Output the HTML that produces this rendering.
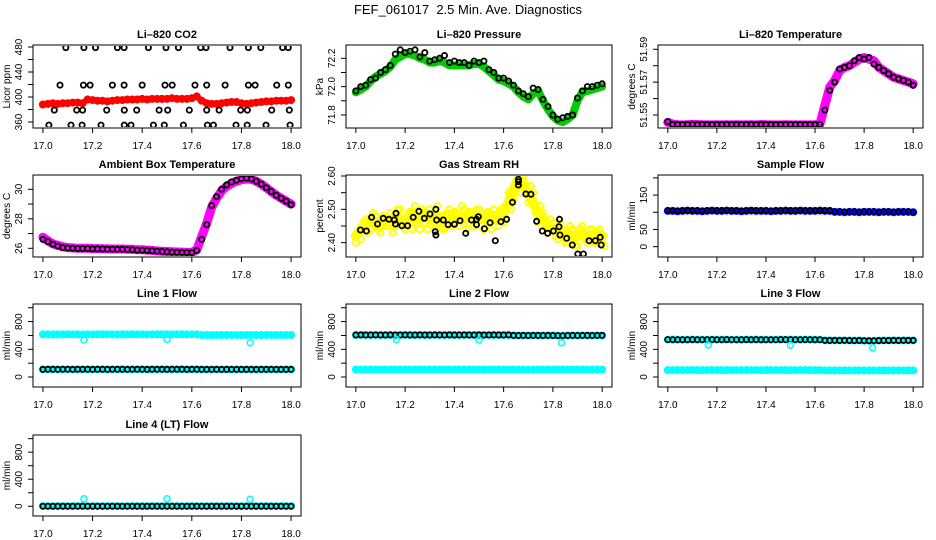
<!DOCTYPE html>
<html><head><meta charset="utf-8"><style>
html,body{margin:0;padding:0;background:#fff;}
svg{display:block;font-family:"Liberation Sans",Arial,sans-serif;}
</style></head><body>
<svg id="chart" width="936" height="540" viewBox="0 0 936 540" xmlns="http://www.w3.org/2000/svg">
<text x="468" y="14" font-size="13" text-anchor="middle">FEF_061017&#160; 2.5 Min. Ave. Diagnostics</text>
</svg>
<script>
// ---- data ----
const xTicks = [17.0, 17.2, 17.4, 17.6, 17.8, 18.0];
const xTickLabels = ["17.0", "17.2", "17.4", "17.6", "17.8", "18.0"];

const co2Red = [388,389,390,389,390,390,391,391,390,396,395,394,394,393,394,395,395,396,396,396,397,396,397,397,397,397,398,397,397,397,398,401,394,390,389,389,390,391,392,392,390,389,390,391,392,393,393,394,394,394,395];
const co2BlackT = [17.092,17.165,17.212,17.3,17.327,17.425,17.496,17.546,17.636,17.657,17.754,17.828,17.878,17.966,17.989,
17.069,17.163,17.19,17.28,17.327,17.4,17.492,17.521,17.613,17.66,17.734,17.828,17.855,17.942,17.989,
17.046,17.136,17.16,17.257,17.328,17.378,17.468,17.503,17.59,17.66,17.71,17.797,17.824,17.922,17.993,
17.024,17.113,17.158,17.234,17.328,17.355,17.445,17.489,17.566,17.663,17.687,17.778,17.823,17.899,17.996];
const co2BlackV = [479,479,479,479,479,479,479,479,479,479,479,479,479,479,479,
419,419,419,419,419,419,419,419,419,419,419,419,419,419,419,
379,379,379,379,379,379,379,379,379,379,379,379,379,379,379,
355,355,355,355,355,355,355,355,355,355,355,355,355,355,355];

const presGreen = [71.96,71.98,72.00,72.04,72.07,72.09,72.11,72.14,72.19,72.21,72.23,72.23,72.22,72.20,72.19,72.17,72.17,72.18,72.17,72.15,72.15,72.15,72.15,72.15,72.16,72.16,72.14,72.11,72.08,72.05,72.04,72.02,72.00,71.96,71.93,71.91,71.95,71.97,71.90,71.84,71.79,71.76,71.75,71.77,71.80,71.90,71.96,71.97,71.98,71.99,72.00];
const presBlack = [71.97,72.00,72.01,72.05,72.06,72.10,72.12,72.15,72.23,72.26,72.24,72.25,72.26,72.21,72.24,72.18,72.19,72.20,72.22,72.17,72.18,72.17,72.17,72.15,72.18,72.17,72.18,72.12,72.10,72.06,72.06,72.04,72.01,71.97,71.95,71.93,71.99,71.98,71.91,71.86,71.80,71.77,71.78,71.79,71.80,71.92,71.97,72.00,72.00,72.01,72.02];

const ltMag = [51.5455,51.5445,51.5441,51.5440,51.5441,51.5443,51.5442,51.5441,51.5440,51.5440,51.5441,51.5440,51.5441,51.5440,51.5441,51.5440,51.5440,51.5441,51.5440,51.5442,51.5441,51.5440,51.5440,51.5440,51.5441,51.5440,51.5440,51.5440,51.5440,51.5440,51.5441,51.5445,51.5560,51.5670,51.5710,51.5770,51.5790,51.5800,51.5820,51.5840,51.5850,51.5840,51.5830,51.5790,51.5770,51.5750,51.5730,51.5720,51.5710,51.5700,51.5690];
const ltBlack = [51.5460,51.5442,51.5443,51.5442,51.5443,51.5444,51.5442,51.5443,51.5442,51.5442,51.5442,51.5442,51.5443,51.5442,51.5443,51.5442,51.5443,51.5443,51.5442,51.5443,51.5443,51.5442,51.5442,51.5442,51.5442,51.5442,51.5442,51.5442,51.5442,51.5442,51.5442,51.5443,51.5530,51.5650,51.5700,51.5780,51.5790,51.5800,51.5830,51.5850,51.5840,51.5850,51.5810,51.5790,51.5770,51.5750,51.5730,51.5720,51.5710,51.5700,51.5680];

const ambMag = [26.75,26.5,26.3,26.2,26.1,26.05,26.03,26.0,26.0,26.0,25.98,25.98,25.97,25.96,25.95,25.95,25.95,25.94,25.93,25.9,25.9,25.88,25.86,25.82,25.8,25.78,25.76,25.75,25.74,25.72,25.72,25.9,26.8,27.7,28.8,29.4,29.9,30.2,30.4,30.55,30.65,30.7,30.68,30.55,30.35,30.1,29.85,29.6,29.4,29.2,29.0];
const ambBlack = [26.6,26.45,26.28,26.15,26.05,26.02,26.0,25.98,25.98,25.97,25.96,25.96,25.95,25.94,25.94,25.93,25.93,25.92,25.9,25.88,25.87,25.85,25.83,25.8,25.78,25.76,25.74,25.73,25.72,25.71,25.71,25.85,26.6,27.6,28.9,29.5,30.0,30.3,30.5,30.62,30.72,30.75,30.7,30.55,30.35,30.1,29.85,29.6,29.4,29.2,28.95];

const rhYellow = [2.42,2.44,2.45,2.47,2.46,2.45,2.47,2.46,2.48,2.47,2.46,2.49,2.48,2.47,2.49,2.47,2.48,2.46,2.48,2.47,2.49,2.48,2.47,2.49,2.48,2.48,2.47,2.49,2.47,2.48,2.49,2.52,2.56,2.59,2.58,2.55,2.52,2.49,2.47,2.45,2.44,2.44,2.42,2.43,2.41,2.42,2.43,2.42,2.42,2.43,2.42];
const rhYellow2 = [2.40,2.41,2.47,2.44,2.48,2.43,2.45,2.49,2.45,2.50,2.44,2.46,2.51,2.44,2.46,2.50,2.45,2.48,2.44,2.50,2.46,2.45,2.50,2.46,2.45,2.50,2.44,2.46,2.50,2.45,2.46,2.55,2.53,2.57,2.60,2.52,2.55,2.46,2.49,2.43,2.46,2.41,2.44,2.40,2.44,2.39,2.45,2.40,2.44,2.40,2.41];
const rhYellow3 = [2.43,2.46,2.43,2.49,2.44,2.48,2.45,2.43,2.50,2.45,2.48,2.44,2.46,2.50,2.44,2.45,2.51,2.44,2.49,2.45,2.47,2.51,2.44,2.47,2.50,2.45,2.49,2.44,2.48,2.50,2.47,2.50,2.58,2.55,2.56,2.57,2.49,2.51,2.45,2.47,2.42,2.46,2.40,2.45,2.39,2.44,2.41,2.44,2.40,2.44,2.39];
const rhBlackT = [17.019,17.043,17.064,17.088,17.111,17.134,17.156,17.161,17.163,17.187,17.21,17.233,17.256,17.278,17.301,17.322,17.325,17.325,17.328,17.355,17.375,17.4,17.423,17.446,17.469,17.49,17.49,17.497,17.522,17.545,17.566,17.589,17.612,17.636,17.66,17.66,17.66,17.69,17.711,17.734,17.757,17.779,17.802,17.825,17.827,17.829,17.856,17.879,17.901,17.924,17.947,17.972,17.992,17.996];
const rhBlackV = [2.438,2.435,2.476,2.456,2.473,2.47,2.468,2.456,2.488,2.451,2.451,2.476,2.494,2.473,2.486,2.433,2.423,2.5,2.468,2.468,2.454,2.455,2.466,2.428,2.468,2.47,2.454,2.478,2.442,2.46,2.406,2.463,2.47,2.521,2.583,2.59,2.573,2.546,2.545,2.464,2.435,2.428,2.435,2.448,2.47,2.423,2.413,2.393,2.366,2.366,2.406,2.406,2.416,2.393];

const sampBlue = [104,104,103,104,105,104,104,103,104,105,104,104,105,104,104,103,104,105,104,104,104,103,104,104,105,104,104,105,104,104,104,105,104,104,101,101,100,101,101,100,101,101,101,100,101,101,100,101,101,101,100];
const sampBlack = [105,105,104,105,106,105,105,104,105,106,105,105,106,105,105,104,105,106,105,105,105,104,105,105,106,105,105,106,105,105,105,106,105,105,102,102,101,102,102,101,102,102,102,101,102,102,101,102,102,102,101];

const l1Top = [615,616,615,614,615,616,615,615,614,616,615,615,616,615,615,614,616,615,616,615,615,614,615,616,615,616,615,615,616,615,615,615,607,606,607,606,607,607,606,607,606,607,606,607,607,606,607,606,607,607,606];
const l1Bot = [110,110,111,110,110,111,110,110,110,111,110,110,111,110,110,110,111,110,110,110,111,110,110,110,111,110,110,110,111,110,110,110,110,109,110,110,109,110,110,110,109,110,110,109,110,110,110,109,110,110,110];
const l1Black = [110,111,111,110,111,111,110,111,111,111,110,111,111,110,111,111,111,110,111,111,111,110,111,111,111,110,111,111,111,110,111,111,110,110,110,110,110,110,110,110,110,110,110,110,110,110,110,110,110,110,110];
const l1OutT = [17.165, 17.5, 17.835];
const l1OutV = [535, 545, 495];

const l2Top = [606,607,606,606,607,606,606,607,606,606,607,606,606,607,606,606,607,606,606,607,606,606,607,606,606,607,606,606,607,606,606,607,600,599,600,599,600,600,599,600,599,600,598,599,600,599,600,600,599,600,600];
const l2Black = [607,608,607,607,608,607,607,608,607,607,608,607,607,608,607,607,608,607,607,608,607,607,608,607,607,608,607,607,608,607,607,608,601,600,601,600,601,601,600,601,600,598,597,599,601,600,601,601,600,601,601];
const l2Bot = [108,108,109,108,108,109,108,108,108,109,108,108,109,108,108,108,109,108,108,108,109,108,108,108,109,108,108,108,109,108,108,108,108,107,108,108,107,108,108,108,107,108,108,107,108,108,108,107,108,108,108];
const l2OutT = [17.165, 17.5, 17.835];
const l2OutV = [540, 535, 495];

const l3Top = [540,541,540,539,540,541,540,540,539,541,540,540,541,540,540,539,541,540,541,540,540,539,540,541,540,541,540,540,541,540,540,540,529,528,529,528,529,528,527,528,525,524,525,527,528,528,529,528,529,529,528];
const l3Black = [540,539,539,538,539,540,539,539,538,540,539,539,540,539,539,538,540,539,540,539,539,538,539,540,540,540,539,539,540,539,539,539,528,527,528,527,528,527,526,527,524,523,524,526,527,527,528,527,528,529,528];
const l3Bot = [100,100,101,100,100,101,100,100,100,101,100,100,101,100,100,100,101,100,100,100,101,100,100,100,101,100,100,100,101,100,100,100,96,95,96,96,95,96,96,96,95,96,96,95,96,96,96,95,96,96,96];
const l3OutT = [17.165, 17.5, 17.835];
const l3OutV = [462, 460, 422];

const l4Cyan = [2,2,1,2,2,1,2,2,2,1,2,2,1,2,2,2,1,2,2,2,1,2,2,2,1,2,2,2,1,2,2,2,2,1,2,2,1,2,2,2,1,2,2,1,2,2,2,1,2,2,2];
const l4Black = [1,1,1,1,1,1,1,1,1,1,1,1,1,1,1,1,1,1,1,1,1,1,1,1,1,1,1,1,1,1,1,1,1,1,1,1,1,1,1,1,1,1,1,1,1,1,1,1,1,1,1];
const l4OutT = [17.165, 17.5, 17.835];
const l4OutV = [110, 110, 105];

// time grid (categories) for the 2.5-min series
const tGrid = [];
for (let i = 0; i <= 50; i++) tGrid.push(17 + i * 0.02);
const tGrid2 = tGrid.map(t => t + 0.01);

// ---- layout ----
const NS = "http://www.w3.org/2000/svg";
const svg = document.getElementById('chart');
const cols = [[33, 301], [346, 612], [658, 923]];
const rows = [[45, 128], [175, 257], [304, 387], [435, 516]];
const X_DOM = [16.96, 18.04];

function mk(tag, attrs, parent) {
  const e = document.createElementNS(NS, tag);
  for (const k in attrs) e.setAttribute(k, attrs[k]);
  (parent || svg).appendChild(e);
  return e;
}

function panel(c, r, title, yTitle, yDom, yTicks, yLabels, name) {
  const [x0, x1] = cols[c], [y0, y1] = rows[r];
  const g = mk('g', {});
  
  
  const xs = v => x0 + (v - X_DOM[0]) / (X_DOM[1] - X_DOM[0]) * (x1 - x0);
  const ys = v => y1 - (v - yDom[0]) / (yDom[1] - yDom[0]) * (y1 - y0);
  const box = mk('rect', {x: x0, y: y0, width: x1 - x0, height: y1 - y0, fill: 'none', stroke: '#000', 'stroke-width': 1}, g);
  
  
  const t = mk('text', {x: (x0 + x1) / 2, y: y0 - 7, 'font-size': 11, 'font-weight': 'bold', 'text-anchor': 'middle'}, g);
  t.textContent = title;
  
  
  const xa = mk('g', {}, g);
  
  
  xTicks.forEach((v, i) => {
    const px = xs(v);
    mk('line', {x1: px, x2: px, y1: y1, y2: y1 + 5, stroke: '#000'}, xa);
    const tl = mk('text', {x: px, y: y1 + 21, 'font-size': 10, 'text-anchor': 'middle'}, xa);
    tl.textContent = xTickLabels[i];
    
    
  });
  const ya = mk('g', {}, g);
  
  
  yTicks.forEach(v => {
    const py = ys(v);
    mk('line', {x1: x0 - 5, x2: x0, y1: py, y2: py, stroke: '#000'}, ya);
  });
  yLabels.forEach(v => {
    const py = ys(v);
    const tl = mk('text', {x: 0, y: 0, 'font-size': 10, 'text-anchor': 'middle', transform: `translate(${x0 - 11},${py}) rotate(-90)`}, ya);
    tl.textContent = String(v);
    
    
  });
  const yt = mk('text', {x: 0, y: 0, 'font-size': 10, 'text-anchor': 'middle', transform: `translate(${x0 - 23},${(y0 + y1) / 2}) rotate(-90)`}, g);
  yt.textContent = yTitle;
  
  
  const clipId = 'clip-' + name;
  const cp = mk('clipPath', {id: clipId}, g);
  mk('rect', {x: x0 + 1, y: y0 + 1, width: x1 - x0 - 2, height: y1 - y0 - 2}, cp);
  const marks = mk('g', {'clip-path': `url(#${clipId})`}, g);
  
  
  return {xs, ys, marks};
}

function band(p, ts, vs, color, width, name) {
  const pts = ts.map((t, i) => p.xs(t).toFixed(1) + ',' + p.ys(vs[i]).toFixed(1)).join(' ');
  const pl = mk('polyline', {points: pts, fill: 'none', stroke: color, 'stroke-width': width, 'stroke-linejoin': 'round', 'stroke-linecap': 'round'}, p.marks);
  
  
  points(p, ts, vs, color, 3, 2, name);
}

function points(p, ts, vs, color, r, sw, name) {
  const g = mk('g', {}, p.marks);
  
  
  ts.forEach((t, i) => {
    const c = mk('circle', {cx: p.xs(t).toFixed(1), cy: p.ys(vs[i]).toFixed(1), r: r, fill: 'none', stroke: color, 'stroke-width': sw}, g);
    
    
  });
}

const BSW = 1.8;

// Li-820 CO2
let p = panel(0, 0, 'Li\u2013820 CO2', 'Licor ppm', [350.4, 483.2], [360, 380, 400, 420, 440, 460, 480], [360, 400, 440, 480], 'co2');
band(p, tGrid, co2Red, '#ff0000', 6, 'co2-red-series');
points(p, co2BlackT, co2BlackV, '#000', 2.6, BSW, 'co2-black-series');

// Li-820 Pressure
p = panel(1, 0, 'Li\u2013820 Pressure', 'kPa', [71.708, 72.294], [71.8, 71.9, 72.0, 72.1, 72.2], ['71.8', '72.0', '72.2'], 'pressure');
band(p, tGrid, presGreen, '#00cc00', 8, 'pressure-green-series');
points(p, tGrid, presBlack, '#000', 2.6, BSW, 'pressure-black-series');

// Li-820 Temperature
p = panel(2, 0, 'Li\u2013820 Temperature', 'degrees C', [51.5421, 51.5926], [51.55, 51.56, 51.57, 51.58, 51.59], ['51.55', '51.57', '51.59'], 'li-temp');
band(p, tGrid, ltMag, '#ff00ff', 9, 'li-temp-magenta-series');
points(p, tGrid, ltBlack, '#000', 2.6, BSW, 'li-temp-black-series');

// Ambient Box Temperature
p = panel(0, 1, 'Ambient Box Temperature', 'degrees C', [25.41, 30.97], [26, 27, 28, 29, 30], [26, 28, 30], 'ambient');
band(p, tGrid, ambMag, '#ff00ff', 9, 'ambient-magenta-series');
points(p, tGrid, ambBlack, '#000', 2.6, BSW, 'ambient-black-series');

// Gas Stream RH
p = panel(1, 1, 'Gas Stream RH', 'percent', [2.357, 2.603], [2.40, 2.45, 2.50, 2.55, 2.60], ['2.40', '2.50', '2.60'], 'rh');
band(p, tGrid, rhYellow, '#ffff00', 10, 'rh-yellow-series');
points(p, tGrid, rhYellow2, '#ffff00', 3, 2, 'rh-yellow-series-2');
points(p, tGrid2, rhYellow3, '#ffff00', 3, 2, 'rh-yellow-series-3');
points(p, rhBlackT, rhBlackV, '#000', 2.6, BSW, 'rh-black-series');

// Sample Flow
p = panel(2, 1, 'Sample Flow', 'ml/min', [-30, 208.4], [0, 50, 100, 150, 200], [0, 50, 150], 'sample-flow');
band(p, tGrid, sampBlue, '#0000ff', 5, 'sample-flow-blue-series');
points(p, tGrid, sampBlack, '#000', 2.4, 1.6, 'sample-flow-black-series');

const flowDom = [-144, 1054], flowTicks = [0, 200, 400, 600, 800, 1000], flowLabels = [0, 400, 800];

// Line 1 Flow
p = panel(0, 2, 'Line 1 Flow', 'ml/min', flowDom, flowTicks, flowLabels, 'line1-flow');
band(p, tGrid, l1Top, '#00ffff', 5, 'line1-cyan-top-series');
band(p, tGrid, l1Bot, '#00ffff', 5, 'line1-cyan-bottom-series');
points(p, tGrid, l1Black, '#000', 2.6, BSW, 'line1-black-series');
points(p, l1OutT, l1OutV, '#00ffff', 3, 1.5, 'line1-cyan-outliers');

// Line 2 Flow
p = panel(1, 2, 'Line 2 Flow', 'ml/min', flowDom, flowTicks, flowLabels, 'line2-flow');
band(p, tGrid, l2Top, '#00ffff', 5, 'line2-cyan-top-series');
band(p, tGrid, l2Bot, '#00ffff', 6, 'line2-cyan-bottom-series');
points(p, tGrid, l2Black, '#000', 2.6, BSW, 'line2-black-series');
points(p, l2OutT, l2OutV, '#00ffff', 3, 1.5, 'line2-cyan-outliers');

// Line 3 Flow
p = panel(2, 2, 'Line 3 Flow', 'ml/min', flowDom, flowTicks, flowLabels, 'line3-flow');
band(p, tGrid, l3Top, '#00ffff', 5, 'line3-cyan-top-series');
band(p, tGrid, l3Bot, '#00ffff', 6, 'line3-cyan-bottom-series');
points(p, tGrid, l3Black, '#000', 2.6, BSW, 'line3-black-series');
points(p, l3OutT, l3OutV, '#00ffff', 3, 1.5, 'line3-cyan-outliers');

// Line 4 (LT) Flow
p = panel(0, 3, 'Line 4 (LT) Flow', 'ml/min', flowDom, flowTicks, flowLabels, 'line4-flow');
band(p, tGrid, l4Cyan, '#00ffff', 5, 'line4-cyan-series');
points(p, tGrid, l4Black, '#000', 2.6, BSW, 'line4-black-series');
points(p, l4OutT, l4OutV, '#00ffff', 3, 1.5, 'line4-cyan-outliers');
</script>
</body></html>
